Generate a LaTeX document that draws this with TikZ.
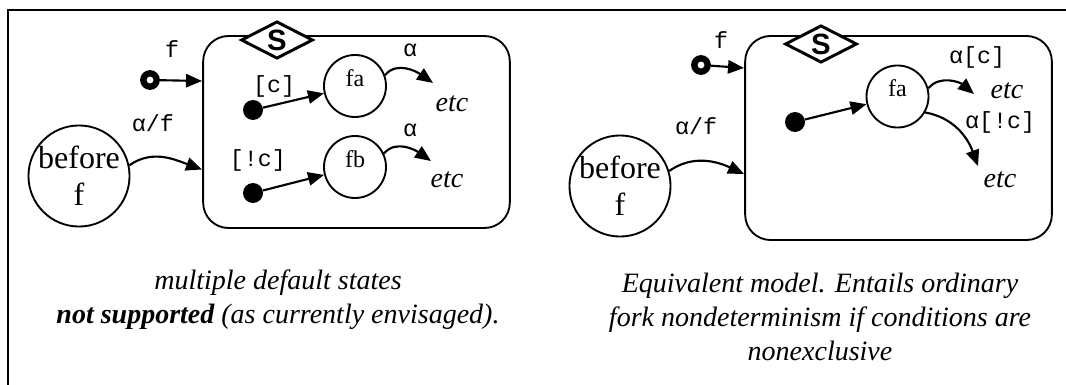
\documentclass[tikz,border=0pt]{standalone}
\usepackage{fontspec}
\setmainfont{Liberation Serif}
\setsansfont{Liberation Sans}
\setmonofont{Liberation Mono}
\usetikzlibrary{arrows.meta,shapes.geometric}
\tikzset{
  state/.style={
    shape = circle,
    draw,
    line width = 1.4pt,
    inner sep = 0pt
  },
  bigstate/.style={
    state,
    minimum size = 70pt,
    align = center,
    font = \fontsize{24}{28}\selectfont
  },
  smallstate/.style={
    state,
    minimum size = 46.5pt,
    text depth = 12pt,
    font = \fontsize{18}{18}\selectfont
  },
  superstate/.style={
    shape = rectangle,
    draw,
    line width = 1.4pt,
    rounded corners = 19pt,
    minimum width = 230pt
  },
  tag/.style={
    shape = diamond,
    aspect = 2,
    draw,
    fill = white,
    line width = 2.2pt,
    inner sep = 0pt,
    minimum width = 54pt,
    minimum height = 28pt,
    font = \sffamily\bfseries\fontsize{22}{22}\selectfont
  },
  defdot/.style={
    shape = circle,
    fill,
    inner sep = 0pt,
    minimum size = 15pt
  },
  histdot/.style={
    shape = circle,
    draw,
    fill = white,
    line width = 4.8pt,
    inner sep = 0pt,
    minimum size = 10pt
  },
  trans/.style={
    line width = 1.6pt,
    -{Triangle[length=12pt,width=10pt]}
  },
  cond/.style={
    inner sep = 0pt,
    font = \ttfamily\fontsize{17.5}{17.5}\selectfont
  },
  etctext/.style={
    inner sep = 0pt,
    font = \itshape\fontsize{21}{21}\selectfont
  },
  note/.style={
    align = center,
    font = \itshape\fontsize{21}{25.5}\selectfont
  }
}
\begin{document}
\begin{tikzpicture}[x=0.75pt,y=-0.75pt]
  \useasboundingbox (0,0) rectangle (1066,385);
  \draw[line width=1.5pt] (7.5,385) -- (7.5,10.5) -- (1066,10.5);

  % multiple default states
  \node[superstate, minimum height=144pt] (boxL) at (356.5,132) {};
  \node[tag] (tagL) at (277,40) {S};
  \node[histdot] (ringL) at (150,80) {};
  \node[bigstate] (beforeL) at (79,176) {before\\f};
  \node[defdot] (dotLa) at (253,110) {};
  \node[defdot] (dotLb) at (253,193) {};
  \node[smallstate] (faL) at (355,86) {fa};
  \node[smallstate] (fbL) at (355,167) {fb};
  \node[cond] (fLabL) at (172,49) {f};
  \node[cond] (afLabL) at (153,123.5) {α/f};
  \node[cond] (cLabL) at (274,86.6) {[c]};
  \node[cond] (ncLabL) at (258,160) {[!c]};
  \node[cond] (aLabLa) at (410,50) {α};
  \node[cond] (aLabLb) at (410,130) {α};
  \node[etctext] (etcLa) at (452,104) {etc};
  \node[etctext] (etcLb) at (447,180) {etc};
  \coordinate (inLa) at (202,81);
  \coordinate (inLb) at (202,169.5);
  \coordinate (tipLa) at (433,83);
  \coordinate (tipLb) at (431,161);
  \draw[trans] (ringL) -- (inLa);
  \draw[trans] (beforeL.12) to[out=35,in=160] (inLb);
  \draw[trans] (dotLa) -- (faL);
  \draw[trans] (dotLb) -- (fbL);
  \draw[trans] (faL.20) to[out=50,in=145] (tipLa);
  \draw[trans] (fbL.25) to[out=50,in=145] (tipLb);

  % equivalent model
  \node[superstate, minimum height=153pt] (boxR) at (898.5,138) {};
  \node[tag] (tagR) at (821,44) {S};
  \node[histdot] (ringR) at (701,65) {};
  \node[bigstate] (beforeR) at (620,186) {before\\f};
  \node[defdot] (dotR) at (795,122) {};
  \node[smallstate] (faR) at (897.5,96.5) {fa};
  \node[cond] (fLabR) at (721,40) {f};
  \node[cond] (afLabR) at (696,126) {α/f};
  \node[cond] (acLabR) at (977,57) {α[c]};
  \node[cond] (ancLabR) at (1000,122) {α[!c]};
  \node[etctext] (etcRa) at (1007,91) {etc};
  \node[etctext] (etcRb) at (1000,180) {etc};
  \coordinate (inRa) at (744,68);
  \coordinate (inRb) at (744,174);
  \coordinate (tipRa) at (974,94);
  \coordinate (tipRb) at (978,166);
  \draw[trans] (ringR) -- (inRa);
  \draw[trans] (beforeR.17) to[out=35,in=155] (inRb);
  \draw[trans] (dotR) -- (faR);
  \draw[trans] (faR.15) to[out=50,in=140] (tipRa);
  \draw[trans] (faR.-30) to[out=-10,in=110] (tipRb);

  \node[note] (noteL) at (278,300) {multiple default states\\\textbf{not supported} (as currently envisaged).};
  \node[note] (noteR) at (820,317) {Equivalent model. Entails ordinary\\fork nondeterminism if conditions are\\nonexclusive};
\end{tikzpicture}
\end{document}
